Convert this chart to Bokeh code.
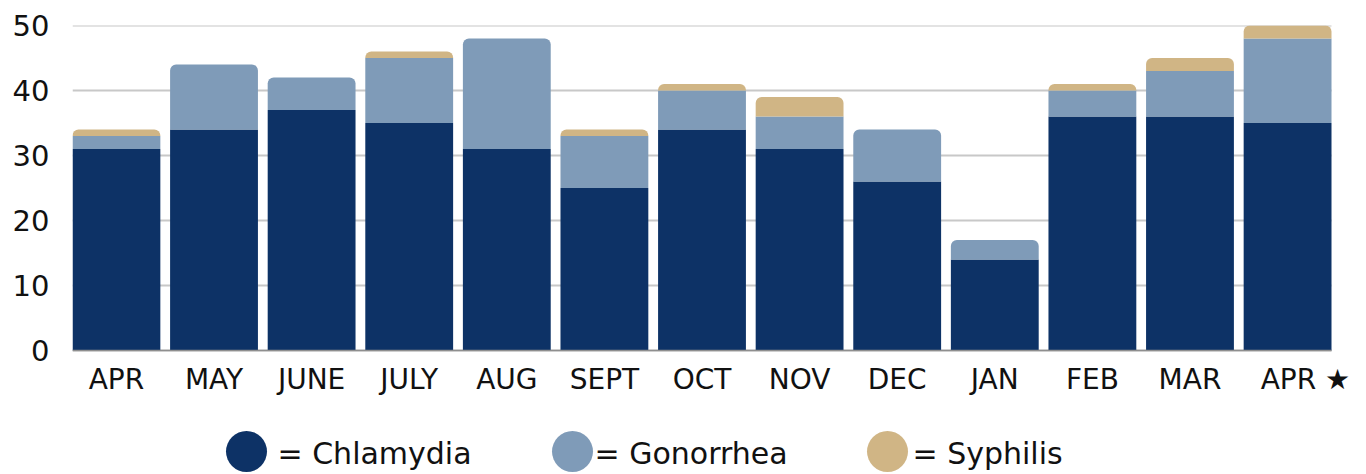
from bokeh.plotting import figure
from bokeh.models import ColumnDataSource, FixedTicker, Range1d
from bokeh.core.properties import value
from bokeh.embed import file_html
from bokeh.resources import INLINE

# ---- data ----
months = ["APR", "MAY", "JUNE", "JULY", "AUG", "SEPT", "OCT", "NOV", "DEC", "JAN", "FEB", "MAR", "APR \u2605"]
chlamydia = [31, 34, 37, 35, 31, 25, 34, 31, 26, 14, 36, 36, 35]
gonorrhea = [2, 10, 5, 10, 17, 8, 6, 5, 8, 3, 4, 7, 13]
syphilis = [1, 0, 0, 1, 0, 1, 1, 3, 0, 0, 1, 2, 2]
series_names = ["Chlamydia", "Gonorrhea", "Syphilis"]
y_ticks = [0, 10, 20, 30, 40, 50]

# ---- style / layout ----
colors = ["#0d3266", "#7f9bb8", "#d0b585"]
FONT = "DejaVu Sans"
TEXT_COLOR = "#111111"
W, H = 1366, 474
BORDER_L, BORDER_T = 72, 25
BAR_AREA_W = 1259                # pixels spanned by the bars / gridlines
Y_MAX = 50
PLOT_H = 325                     # pixels between 0 and Y_MAX
px_per_y = PLOT_H / Y_MAX
y_min = -(H - BORDER_T - PLOT_H) / px_per_y   # room below the axis for the legend

series = [chlamydia, gonorrhea, syphilis]
n = len(months)
xs = list(range(n))
x0, x_bar_end = -0.45, n - 0.55
px_per_x = BAR_AREA_W / (x_bar_end - x0)
x1 = x0 + (W - BORDER_L) / px_per_x

p = figure(width=W, height=H,
           x_range=Range1d(x0, x1), y_range=Range1d(y_min, Y_MAX),
           output_backend="svg", toolbar_location=None,
           min_border_left=BORDER_L, min_border_right=0,
           min_border_top=BORDER_T, min_border_bottom=0)
p.outline_line_color = None
p.xgrid.visible = False
p.ygrid.visible = False

# horizontal gridlines spanning the bars only
p.segment(x0=[x0] * len(y_ticks), x1=[x_bar_end] * len(y_ticks), y0=y_ticks, y1=y_ticks,
          line_color="#c8c8c8", line_width=2)

# stacked bars: topmost non-zero segment gets rounded top corners
bottoms = [0] * n
topmost = [max(k for k in range(len(series)) if series[k][i] > 0) for i in range(n)]
for k, vals in enumerate(series):
    for rounded in (False, True):
        idx = [i for i in range(n) if vals[i] > 0 and (topmost[i] == k) == rounded]
        if not idx:
            continue
        src = ColumnDataSource(dict(
            x=[xs[i] for i in idx],
            bottom=[bottoms[i] for i in idx],
            top=[bottoms[i] + vals[i] for i in idx],
        ))
        r = p.vbar(x="x", bottom="bottom", top="top", width=0.9, source=src,
                   fill_color=colors[k], line_color=None)
        if rounded:
            r.glyph.border_radius = (6, 6, 0, 0)
    bottoms = [bottoms[i] + vals[i] for i in range(n)]

# axes
p.yaxis.ticker = FixedTicker(ticks=y_ticks)
p.yaxis.axis_line_color = None
p.yaxis.major_tick_line_color = None
p.yaxis.minor_tick_line_color = None
p.yaxis.major_label_standoff = 17
p.yaxis.major_label_text_font = FONT
p.yaxis.major_label_text_font_size = "29px"
p.yaxis.major_label_text_color = TEXT_COLOR

# the star sits after a centred "APR" in the original, so pad the last label on the left
x_labels = dict(enumerate(months))
x_labels[n - 1] = "\u00a0" * 4 + months[-1]

p.xaxis.fixed_location = 0
p.xaxis.bounds = (x0, x_bar_end)
p.xaxis.ticker = FixedTicker(ticks=xs)
p.xaxis.major_label_overrides = x_labels
p.xaxis.axis_line_color = "#8f8f8f"
p.xaxis.axis_line_width = 1.5
p.xaxis.major_tick_line_color = None
p.xaxis.minor_tick_line_color = None
p.xaxis.major_label_standoff = 6
p.xaxis.major_label_text_font = FONT
p.xaxis.major_label_text_font_size = "28px"
p.xaxis.major_label_text_color = TEXT_COLOR

# ---- legend (pixel layout converted to data space) ----
def sx_to_x(sx):
    return x0 + (sx - BORDER_L) / px_per_x

def sy_below_axis(dy):
    return -dy / px_per_y

circle_px = [246, 572, 887]
text_px = [277, 594, 912]
p.scatter(x=[sx_to_x(v) for v in circle_px], y=[sy_below_axis(101)] * 3,
          marker="circle", size=41, fill_color=colors, line_color=None)
p.text(x=[sx_to_x(v) for v in text_px], y=[sy_below_axis(103)] * 3,
       text=["= " + s for s in series_names],
       text_font=value(FONT), text_font_size="30px", text_baseline="middle",
       text_color=TEXT_COLOR)

open("out.html", "w").write(file_html(p, INLINE))
